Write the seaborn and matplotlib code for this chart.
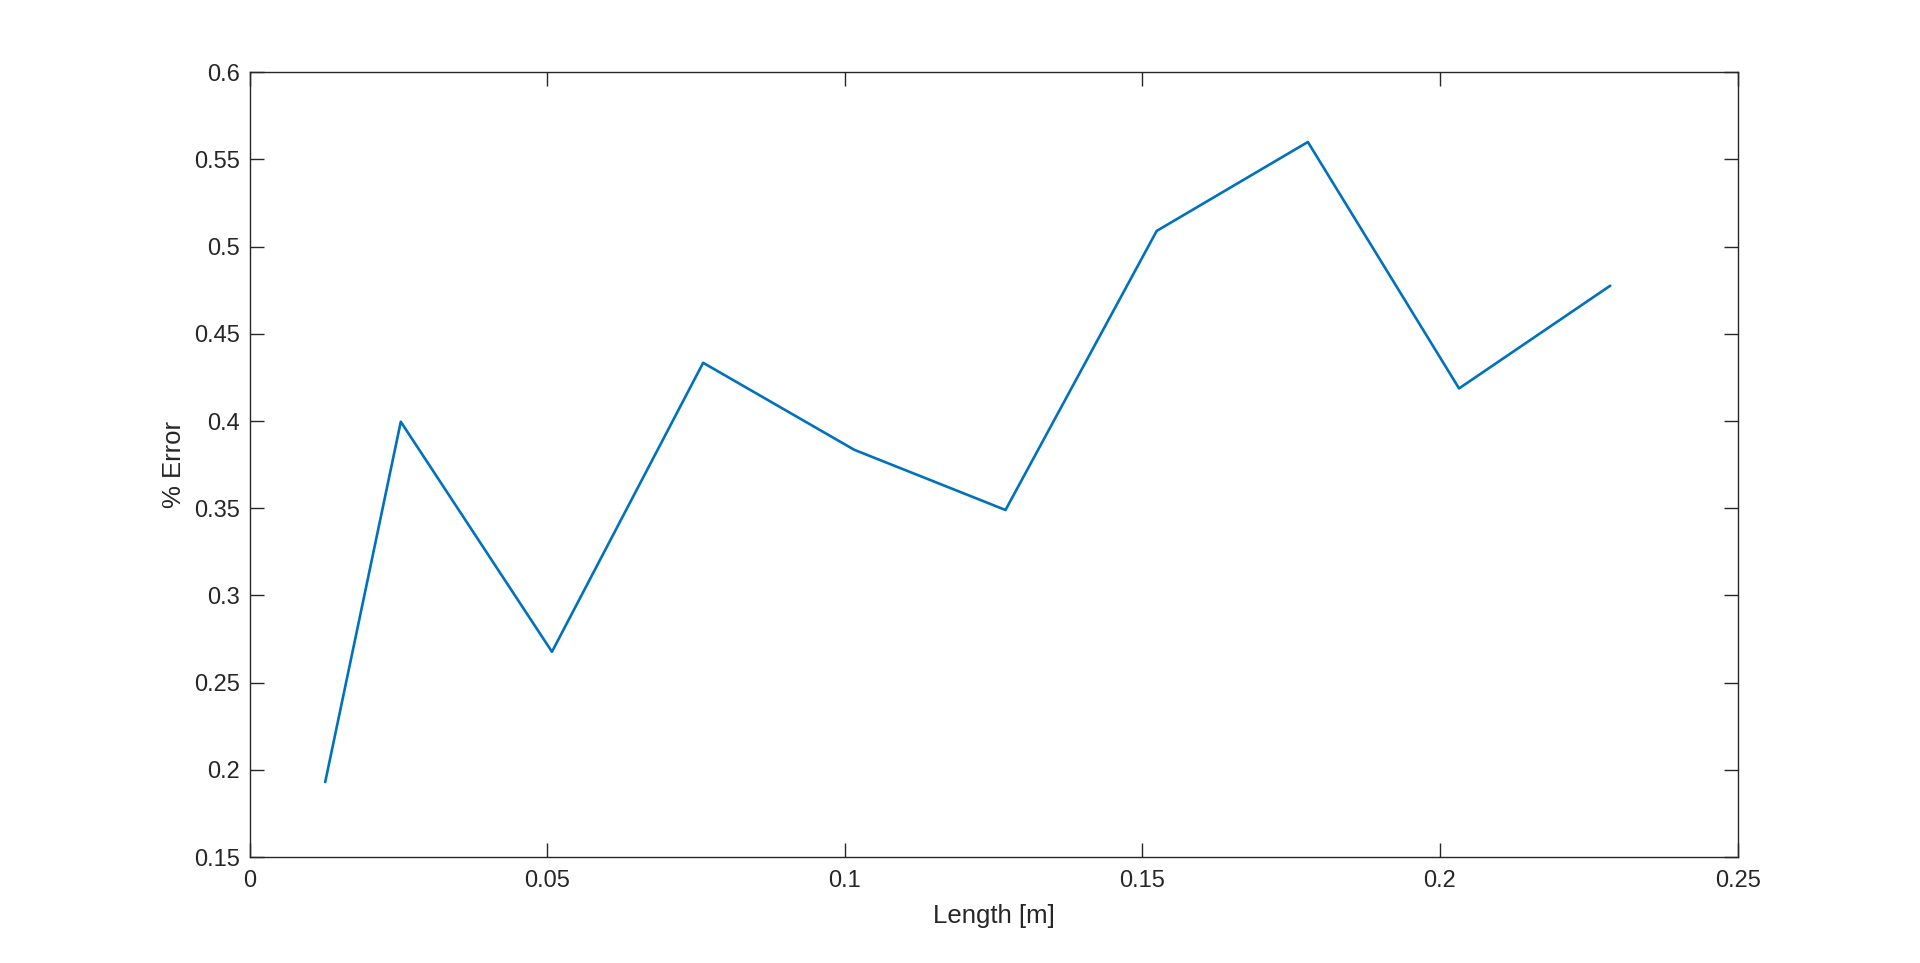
import matplotlib
matplotlib.use("Agg")
import matplotlib.pyplot as plt
import seaborn as sns
import pandas as pd

length_m = [0.0127, 0.0254, 0.0508, 0.0762, 0.1016, 0.1270, 0.1524, 0.1778, 0.2032, 0.2286]
pct_error = [0.193, 0.3996, 0.2677, 0.4334, 0.3835, 0.349, 0.509, 0.560, 0.4187, 0.4776]
x_ticks = [0, 0.05, 0.1, 0.15, 0.2, 0.25]
x_ticklabels = ["0", "0.05", "0.1", "0.15", "0.2", "0.25"]
y_ticks = [0.15, 0.2, 0.25, 0.3, 0.35, 0.4, 0.45, 0.5, 0.55, 0.6]
y_ticklabels = ["0.15", "0.2", "0.25", "0.3", "0.35", "0.4", "0.45", "0.5", "0.55", "0.6"]

sns.set_theme(style="white")
plt.rcParams['font.family'] = ['Liberation Sans', 'DejaVu Sans']

df = pd.DataFrame({"Length [m]": length_m, "% Error": pct_error})

fig = plt.figure(figsize=(19.2, 9.63), dpi=100)
ax = fig.add_axes([0.13, 0.11, 0.775, 0.815])
sns.lineplot(data=df, x="Length [m]", y="% Error", ax=ax, color="#0072BD",
             linewidth=1.9, sort=False)

ax.set_xlim(0, 0.25)
ax.set_ylim(0.15, 0.6)
ax.set_xticks(x_ticks)
ax.set_xticklabels(x_ticklabels)
ax.set_yticks(y_ticks)
ax.set_yticklabels(y_ticklabels)

edge = "#262626"
for s in ax.spines.values():
    s.set_visible(True)
    s.set_color(edge)
    s.set_linewidth(1.0)
ax.tick_params(axis="both", which="major", direction="in", length=10, width=1.0,
               color=edge, labelcolor=edge, labelsize=17, top=True, right=True,
               bottom=True, left=True)
ax.tick_params(axis="x", pad=9)
ax.tick_params(axis="y", pad=7)
ax.set_xlabel("Length [m]", fontsize=18.5, color=edge, labelpad=9)
ax.set_ylabel("% Error", fontsize=18.5, color=edge)
ax.yaxis.set_label_coords(-0.0425, 0.5)
ax.grid(False)
ax.set_facecolor("white")
fig.patch.set_facecolor("white")

fig.savefig("out.png", dpi=100)
